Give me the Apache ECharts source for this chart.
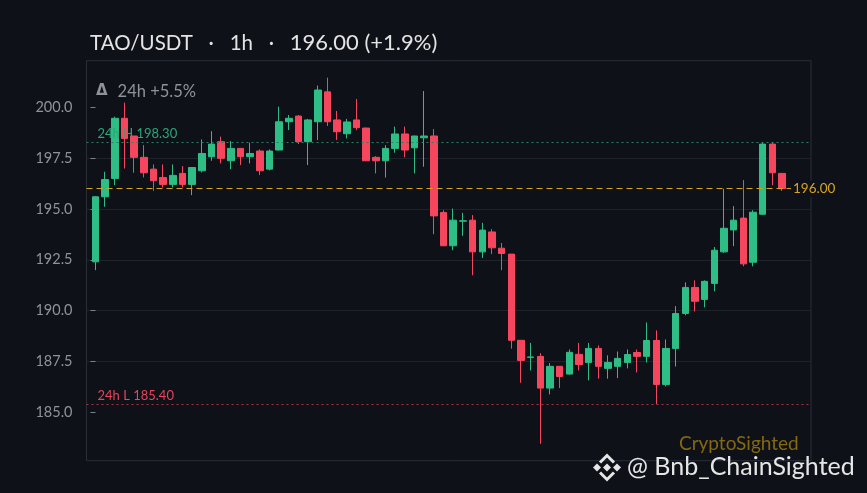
<!DOCTYPE html>
<html><head><meta charset="utf-8">
<script src="https://cdn.jsdelivr.net/npm/echarts@6/dist/echarts.min.js"></script>
<style>html,body{margin:0;padding:0;background:#0e1118;}#c{width:867px;height:493px;}</style>
</head><body><div id="c"></div>
<script>
const symbol = 'TAO/USDT';
const timeframe = '1h';
const lastPrice = 196.00;
const changePct = '+1.9%';
const change24h = '+5.5%';
const high24h = 198.30;
const low24h = 185.40;
const opens = [192.40,195.60,196.50,199.46,198.59,197.54,196.96,196.55,196.21,196.75,196.21,196.88,197.57,198.31,197.37,197.98,197.57,197.85,196.96,197.90,
199.29,199.57,198.31,199.29,200.76,199.38,198.70,199.38,198.98,197.54,197.37,197.98,198.69,198.01,198.50,198.59,194.83,193.19,194.40,194.45,
192.89,193.87,193.07,192.78,188.54,187.70,187.75,186.19,187.26,186.88,187.85,187.45,188.14,187.16,187.26,187.45,187.94,187.75,188.53,186.37,
188.14,189.86,191.14,190.55,191.34,192.89,193.97,194.55,192.38,194.74,198.19,196.75];
const closes = [195.60,196.45,199.46,198.47,197.54,196.78,196.39,196.21,196.65,196.21,197.04,197.73,198.19,197.49,197.98,197.57,197.73,196.88,197.85,199.29,
199.46,198.31,199.38,200.85,199.29,198.80,199.28,199.00,197.37,197.37,197.98,198.69,197.90,198.59,198.59,194.66,193.19,194.45,194.42,192.89,
193.96,193.09,192.81,188.54,187.55,187.72,186.19,187.26,186.76,187.95,187.35,188.14,187.26,187.45,187.65,187.84,187.75,188.53,186.37,188.14,
189.86,191.14,190.46,191.44,192.97,194.05,194.45,192.30,194.84,198.19,196.78,196.00];
const lows = [191.99,195.11,196.17,196.99,196.78,196.55,195.89,196.06,196.06,196.06,195.68,196.80,197.37,197.24,196.96,197.16,197.24,196.67,196.90,197.88,
198.88,198.19,197.16,198.39,199.08,198.39,198.47,198.88,197.37,196.75,196.55,197.77,197.54,196.75,197.08,193.76,193.19,192.97,193.68,191.74,
192.59,192.78,191.99,188.13,186.45,187.06,183.45,185.88,186.19,186.85,187.06,186.57,186.65,186.65,186.68,187.16,186.96,187.45,185.40,186.27,
187.25,189.77,189.96,190.16,190.95,192.84,193.17,192.18,192.18,194.71,196.17,195.89];
const highs = [195.63,196.83,199.54,200.23,198.59,198.14,197.19,197.19,197.19,197.11,197.04,198.42,198.83,198.56,198.34,198.00,198.26,197.93,197.93,200.03,
199.62,199.62,199.43,201.07,201.46,199.82,199.43,200.41,199.00,197.60,198.14,199.05,199.05,198.60,200.80,198.93,194.94,195.02,194.81,194.70,
194.32,194.01,193.33,192.78,188.54,188.41,187.91,187.42,187.26,188.09,188.41,188.41,188.29,187.80,187.99,188.09,188.09,189.42,189.03,188.58,
190.22,191.39,191.49,191.49,193.13,196.00,195.14,196.42,194.94,198.30,198.30,196.75];
const yTicks = [185.0, 187.5, 190.0, 192.5, 195.0, 197.5, 200.0];

const UP = '#2ebd85', DOWN = '#f6465d', BG = '#0e1118';
const FONT = 'Lato';

const candles = opens.map((o, i) => [i, o, closes[i], lows[i], highs[i]]);

const chart = echarts.init(document.getElementById('c'), null, {renderer: 'canvas'});
chart.setOption({
  backgroundColor: BG,
  animation: false,
  textStyle: {fontFamily: FONT},
  title: {
    text: '{a|' + symbol + '   ·   ' + timeframe + '   ·   }{b|' + lastPrice.toFixed(2) + ' (' + changePct + ')}',
    left: 85, top: 27,
    textStyle: {
      color: '#e4e4e4', fontSize: 20, fontWeight: 'normal', fontFamily: FONT,
      rich: {
        a: {color: '#e4e4e4', fontSize: 20.5, fontFamily: FONT},
        b: {color: '#e4e4e4', fontSize: 22, fontFamily: FONT}
      }
    }
  },
  grid: [
    {left: 86.5, right: 56, top: 56.5, bottom: 29.9},
    {left: 86.5, right: 56, top: 60.7, bottom: 32.3, show: true, borderColor: '#2a2e37', borderWidth: 1, backgroundColor: 'transparent'}
  ],
  xAxis: [
    {type: 'value', gridIndex: 0, min: -0.93, max: 74, show: false},
    {type: 'value', gridIndex: 1, show: false}
  ],
  yAxis: [
    {
      type: 'value', gridIndex: 0, min: 182.5, max: 202.5, interval: 2.5,
      axisLine: {show: false},
      axisTick: {show: true, length: 5, lineStyle: {color: '#7c818a'}, customValues: yTicks},
      axisLabel: {color: '#8e939b', fontSize: 14.5, margin: 14, fontFamily: FONT, customValues: yTicks,
        formatter: v => v.toFixed(1)},
      splitLine: {show: true, showMinLine: false, showMaxLine: false, lineStyle: {color: '#1f232b', width: 1}}
    },
    {type: 'value', gridIndex: 1, show: false}
  ],
  graphic: [
    {type: 'text', left: 96, top: 83, style: {
      text: '{d|Δ}{t|24h ' + change24h + '}',
      rich: {
        d: {fill: '#8e939b', fontSize: 15, fontWeight: 'bold', fontFamily: 'DejaVu Sans', padding: [0, 10, 0, 0]},
        t: {fill: '#8e939b', fontSize: 16.5, fontFamily: FONT}
      }
    }},
    {type: 'text', left: 679, top: 434, style: {text: 'CryptoSighted', fill: '#86680f', fontSize: 19, fontFamily: FONT}},
    {type: 'text', left: 627, top: 454, style: {text: '@ Bnb_ChainSighted', fill: '#e6e6e6', fontSize: 25, fontFamily: FONT}},
    {type: 'group', left: 593, top: 453, children: [
      {type: 'polygon', shape: {points: [[0,13],[4,9],[8,13],[4,17]]}, style: {fill: '#e6e6e6'}},
      {type: 'polygon', shape: {points: [[20,13],[24,9],[28,13],[24,17]]}, style: {fill: '#e6e6e6'}},
      {type: 'polygon', shape: {points: [[10,13],[14,9],[18,13],[14,17]]}, style: {fill: '#e6e6e6'}},
      {type: 'polyline', shape: {points: [[7,8],[14,1],[21,8]]}, style: {stroke: '#e6e6e6', lineWidth: 3, fill: null}},
      {type: 'polyline', shape: {points: [[7,18],[14,25],[21,18]]}, style: {stroke: '#e6e6e6', lineWidth: 3, fill: null}}
    ]}
  ],
  series: [{
    type: 'candlestick',
    xAxisIndex: 0, yAxisIndex: 0,
    dimensions: ['idx', 'open', 'close', 'lowest', 'highest'],
    encode: {x: 0, y: [1, 2, 3, 4]},
    data: candles,
    barWidth: 7,
    clip: false,
    itemStyle: {color: UP, color0: DOWN, borderColor: UP, borderColor0: DOWN, borderWidth: 1},
    markLine: {
      symbol: 'none',
      silent: true,
      data: [
        {yAxis: high24h, lineStyle: {color: '#2a8062', type: [2, 3], width: 1},
          label: {show: true, position: 'insideStartTop', distance: [11, 2], formatter: '24h H ' + high24h.toFixed(2), color: '#2aa878', fontSize: 13, fontFamily: FONT}},
        {yAxis: low24h, lineStyle: {color: '#a83445', type: [2, 3], width: 1},
          label: {show: true, position: 'insideStartTop', distance: [11, 2], formatter: '24h L ' + low24h.toFixed(2), color: '#e8445a', fontSize: 13, fontFamily: FONT}},
        {yAxis: lastPrice, lineStyle: {color: '#d9a41c', type: [6, 4], width: 1.2},
          label: {show: true, position: 'end', distance: -20, formatter: lastPrice.toFixed(2), color: '#d9a41c', fontSize: 13.5, fontFamily: FONT, backgroundColor: BG, padding: [1, 1, 1, 2]}}
      ]
    }
  }]
});
</script></body></html>
